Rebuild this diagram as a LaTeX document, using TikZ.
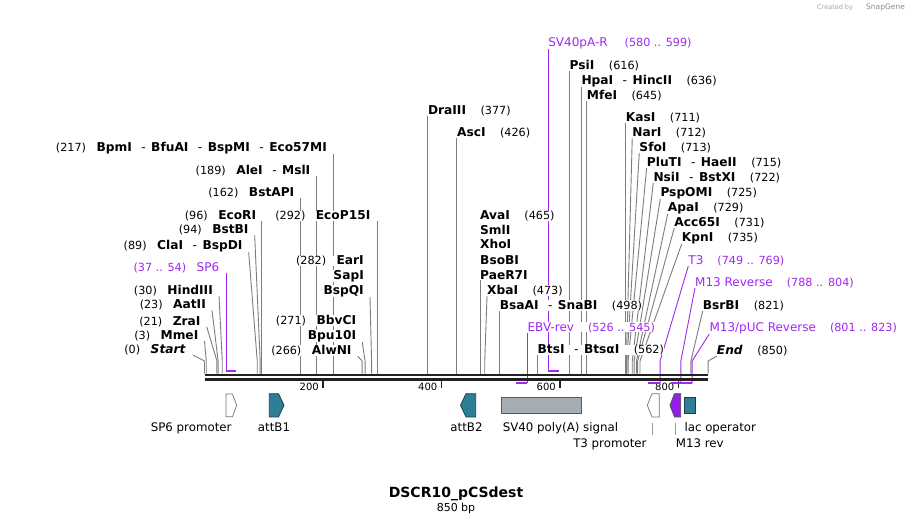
\documentclass[tikz,border=0pt]{standalone}
\usepackage{fontspec}
\setmainfont{DejaVu Sans}

\definecolor{primerc}{RGB}{160,40,240}
\definecolor{attc}{RGB}{46,126,150}
\definecolor{attd}{RGB}{28,62,74}
\definecolor{polyc}{RGB}{166,172,180}
\definecolor{cutc}{RGB}{125,125,125}
\definecolor{m13c}{RGB}{150,30,235}

\pgfdeclarelayer{bg}
\pgfsetlayers{bg,main}

\newcommand{\enz}[1]{\textbf{#1}}
\newcommand{\pos}[1]{{\fontsize{11.2}{13}\selectfont(#1)}}
\newcommand{\orr}{\hspace{9.5pt}-\hspace{5.5pt}}
\newcommand{\gL}{\hspace{10.5pt}}
\newcommand{\gR}{\hspace{14.5pt}}
\newcommand{\gP}{\hspace{14pt}}

\tikzset{
  lab/.style={fill=white, inner sep=0pt, font=\fontsize{12.2}{14}\selectfont},
  plab/.style={lab, text=primerc, font=\fontsize{12}{14}\selectfont},
  cut/.style={draw=cutc, line width=0.9pt},
  prim/.style={draw=primerc, line width=0.9pt},
  primbar/.style={draw=primerc, line width=1.8pt},
  seqline/.style={draw=black!87, line width=2.8pt},
  rultick/.style={draw=black!87, line width=1.8pt},
  rul/.style={inner sep=0pt, font=\fontsize{10}{12}\selectfont},
  feat/.style={inner sep=0pt, font=\fontsize{11.8}{14}\selectfont},
  featline/.style={draw=black!40, line width=0.8pt},
  promo/.style={draw=black!55, fill=white, line width=0.7pt},
  attfeat/.style={draw=attd, fill=attc, line width=0.8pt},
  polyfeat/.style={draw=black!65, fill=polyc, line width=0.8pt},
  m13feat/.style={draw=black!70, fill=m13c, line width=0.8pt},
}

\begin{document}
\begin{tikzpicture}[x=1pt,y=-1pt]
\useasboundingbox (0,0) rectangle (914,524);
\begin{pgfonlayer}{bg}
  \fill[white] (0,0) rectangle (914,524);
\end{pgfonlayer}
\node[inner sep=0pt, font=\fontsize{6.5}{8}\selectfont, text=black!35, anchor=base west] (made) at (817,9.5) {Created by};
\node[inner sep=0pt, font=\fontsize{7.5}{9}\selectfont, text=black!45, anchor=base west] (snap) at (866,9.5) {SnapGene};

% sequence, sites and primers: x in bp
\begin{scope}[xshift=204.5pt, x=0.5925pt]
\foreach \p in {0,3,21,23,30,89,94,96,162,189,217,266,271,282,292,377,426,465,473,498,562,616,636,645,711,712,713,715,722,725,729,731,735,821,850}
  \coordinate (s\p) at (\p,373.5);
\foreach \p/\y in {37/370.7,54/370.7,580/370.7,599/370.7,526/383.3,545/383.3,749/383.3,769/383.3,788/383.3,804/383.3,801/383.3,823/383.3}
  \coordinate (p\p) at (\p,\y);

% ruler
\foreach \t in {200,400,600,800}{
  \draw[rultick] (\t,380) -- (\t,388);
  \node[rul, anchor=base east] (r\t) at ([xshift=-4pt]\t,390.7) {\t};
}
\draw[seqline] (0,374.9) -- (850,374.9);
\draw[seqline] (0,379.5) -- (850,379.5);

% primer bars
\draw[primbar] (p37) -- (p54);
\draw[primbar] (p580) -- (p599);
\draw[primbar] (p526) -- (p545);
\draw[primbar] (p749) -- (p769);
\draw[primbar] (p788) -- (p804);
\draw[primbar] (p801) -- (p823);

% labels left of their sites
\node[lab, anchor=base east] (bpm) at ([xshift=-6pt]217,151.2) {\pos{217}\gL\enz{BpmI}\orr\enz{BfuAI}\orr\enz{BspMI}\orr\enz{Eco57MI}};
\node[lab, anchor=base east] (ale) at ([xshift=-6pt]189,174.5) {\pos{189}\gL\enz{AleI}\orr\enz{MslI}};
\node[lab, anchor=base east] (bsta) at ([xshift=-6pt]162,196.2) {\pos{162}\gL\enz{BstAPI}};
\node[lab, anchor=base east] (ecor) at ([xshift=-5pt]96,219.5) {\pos{96}\gL\enz{EcoRI}};
\node[lab, anchor=base east] (ecop) at ([xshift=-7pt]292,219.5) {\pos{292}\gL\enz{EcoP15I}};
\node[lab, anchor=base east] (bstb) at ([xshift=-6pt]84.7,233.8) {\pos{94}\gL\enz{BstBI}};
\node[lab, anchor=base east] (cla) at ([xshift=-6pt]74.6,249.5) {\pos{89}\gL\enz{ClaI}\orr\enz{BspDI}};
\node[lab, anchor=base east] (ear) at ([xshift=-6pt]279.3,264.5) {\pos{282}\gL\enz{EarI}};
\node[lab, anchor=base east] (sap) at ([xshift=-6pt]279.3,279.5) {\enz{SapI}};
\node[lab, anchor=base east] (bspq) at ([xshift=-6pt]279.3,294.5) {\enz{BspQI}};
\node[lab, anchor=base east] (bbv) at ([xshift=-6pt]266.3,324.5) {\pos{271}\gL\enz{BbvCI}};
\node[lab, anchor=base east] (bpu) at ([xshift=-6pt]266.3,339.5) {\enz{Bpu10I}};
\node[lab, anchor=base east] (alw) at ([xshift=-6pt]258.6,354.5) {\pos{266}\gL\enz{AlwNI}};
\node[lab, anchor=base east] (hind) at ([xshift=-6pt]24.5,294.5) {\pos{30}\gL\enz{HindIII}};
\node[lab, anchor=base east] (aat) at ([xshift=-6pt]12.7,308.8) {\pos{23}\gL\enz{AatII}};
\node[lab, anchor=base east] (zra) at ([xshift=-6pt]3.7,325) {\pos{21}\gL\enz{ZraI}};
\node[lab, anchor=base east] (mme) at ([xshift=-6pt]0,339.5) {\pos{3}\gL\enz{MmeI}};
\node[lab, anchor=base east] (strt) at ([xshift=-7pt]-19.4,353.5) {\pos{0}\gL\enz{\itshape Start}};
\node[plab, anchor=base east] (sp6) at ([xshift=-7pt]37,271) {\pos{37 .. 54}\gL SP6};

% labels right of their sites
\node[lab, anchor=base west] (dra) at (377,114.5) {\enz{DraIII}\gR\pos{377}};
\node[lab, anchor=base west] (asc) at (426,136.8) {\enz{AscI}\gR\pos{426}};
\node[lab, anchor=base west] (ava) at (465,219.5) {\enz{AvaI}\gR\pos{465}};
\node[lab, anchor=base west] (sml) at (465,234) {\enz{SmlI}};
\node[lab, anchor=base west] (xho) at (465,248.8) {\enz{XhoI}};
\node[lab, anchor=base west] (bsob) at (465,264.5) {\enz{BsoBI}};
\node[lab, anchor=base west] (pae) at (465,279.5) {\enz{PaeR7I}};
\node[lab, anchor=base west] (xba) at (476.8,294.5) {\enz{XbaI}\gR\pos{473}};
\node[lab, anchor=base west] (bsaa) at (498,309.5) {\enz{BsaAI}\orr\enz{SnaBI}\gR\pos{498}};
\node[lab, anchor=base west] (bts) at (562,353.8) {\enz{BtsI}\orr\enz{BtsαI}\gR\pos{562}};
\node[lab, anchor=base west] (psi) at (616,69.5) {\enz{PsiI}\gR\pos{616}};
\node[lab, anchor=base west] (hpa) at (636,84.5) {\enz{HpaI}\orr\enz{HincII}\gR\pos{636}};
\node[lab, anchor=base west] (mfe) at (645,99.5) {\enz{MfeI}\gR\pos{645}};
\node[lab, anchor=base west] (kas) at (711,121.2) {\enz{KasI}\gR\pos{711}};
\node[lab, anchor=base west] (nar) at (721.9,136.8) {\enz{NarI}\gR\pos{712}};
\node[lab, anchor=base west] (sfo) at (733.8,151.2) {\enz{SfoI}\gR\pos{713}};
\node[lab, anchor=base west] (plu) at (746.3,166.2) {\enz{PluTI}\orr\enz{HaeII}\gR\pos{715}};
\node[lab, anchor=base west] (nsi) at (757.5,181.2) {\enz{NsiI}\orr\enz{BstXI}\gR\pos{722}};
\node[lab, anchor=base west] (psp) at (769.3,196.2) {\enz{PspOMI}\gR\pos{725}};
\node[lab, anchor=base west] (apa) at (781.8,211.2) {\enz{ApaI}\gR\pos{729}};
\node[lab, anchor=base west] (acc) at (792.9,226.2) {\enz{Acc65I}\gR\pos{731}};
\node[lab, anchor=base west] (kpn) at (805.4,241.2) {\enz{KpnI}\gR\pos{735}};
\node[lab, anchor=base west] (bsrb) at (840.8,309.5) {\enz{BsrBI}\gR\pos{821}};
\node[lab, anchor=base west] (fin) at (864.6,354.5) {\enz{\itshape End}\gR\pos{850}};
\node[plab, anchor=base west] (svr) at (580,46.8) {SV40pA-R\hspace{17pt}\pos{580 .. 599}};
\node[plab, anchor=base west] (ebv) at (545,331) {EBV-rev\gP\pos{526 .. 545}};
\node[plab, anchor=base west] (t3) at (816.5,264.5) {T3\gP\pos{749 .. 769}};
\node[plab, anchor=base west] (m13r) at (827.8,286.2) {M13 Reverse\gP\pos{788 .. 804}};
\node[plab, anchor=base west] (pucr) at (852,331.2) {M13/pUC Reverse\gP\pos{801 .. 823}};

\begin{pgfonlayer}{bg}
% leaders from labels to sites
\draw[cut] (bpm.south east) ++(6pt,0) -- (s217);
\draw[cut] (ale.south east) ++(6pt,0) -- (s189);
\draw[cut] (bsta.south east) ++(6pt,0) -- (s162);
\draw[cut] (ecor.south east) ++(5pt,0) -- (s96);
\draw[cut] (ecop.south east) ++(7pt,0) -- (s292);
\draw[cut] (bstb.south east) ++(6pt,0) -- ([yshift=12.5pt]s94) -- (s94);
\draw[cut] (cla.south east) ++(6pt,0) -- ([yshift=12.5pt]s89) -- (s89);
\draw[cut] (bspq.south east) ++(6pt,0) -- ([yshift=12.5pt]s282) -- (s282);
\draw[cut] (bpu.south east) ++(6pt,0) -- ([yshift=12.5pt]s271) -- (s271);
\draw[cut] (alw.south east) ++(6pt,0) -- ([yshift=12.5pt]s266) -- (s266);
\draw[cut] (hind.south east) ++(6pt,0) -- ([yshift=12.5pt]s30) -- (s30);
\draw[cut] (aat.south east) ++(6pt,0) -- ([yshift=12.5pt]s23) -- (s23);
\draw[cut] (zra.south east) ++(6pt,0) -- ([yshift=12.5pt]s21) -- (s21);
\draw[cut] (mme.south east) ++(6pt,0) -- ([yshift=12.5pt]s3) -- (s3);
\draw[cut] (strt.south east) ++(7pt,0) -- ([yshift=12.5pt]s0) -- (s0);
\draw[cut] (dra.south west) -- (s377);
\draw[cut] (asc.south west) -- (s426);
\draw[cut] (pae.south west) -- (s465);
\draw[cut] (xba.south west) -- ([yshift=12.5pt]s473) -- (s473);
\draw[cut] (bsaa.south west) -- (s498);
\draw[cut] (bts.south west) -- (s562);
\draw[cut] (psi.south west) -- (s616);
\draw[cut] (hpa.south west) -- (s636);
\draw[cut] (mfe.south west) -- (s645);
\draw[cut] (kas.south west) -- (s711);
\draw[cut] (nar.south west) -- ([yshift=12.5pt]s712) -- (s712);
\draw[cut] (sfo.south west) -- ([yshift=12.5pt]s713) -- (s713);
\draw[cut] (plu.south west) -- ([yshift=12.5pt]s715) -- (s715);
\draw[cut] (nsi.south west) -- ([yshift=12.5pt]s722) -- (s722);
\draw[cut] (psp.south west) -- ([yshift=12.5pt]s725) -- (s725);
\draw[cut] (apa.south west) -- ([yshift=12.5pt]s729) -- (s729);
\draw[cut] (acc.south west) -- ([yshift=12.5pt]s731) -- (s731);
\draw[cut] (kpn.south west) -- ([yshift=12.5pt]s735) -- (s735);
\draw[cut] (bsrb.south west) -- ([yshift=12.5pt]s821) -- (s821);
\draw[cut] (fin.south west) -- ([yshift=12.5pt]s850) -- (s850);
% primer leaders
\draw[prim] (sp6.south east) ++(7pt,0) -- (p37);
\draw[prim] (svr.south west) -- (p580);
\draw[prim] (ebv.south west) -- (p545);
\draw[prim] (t3.south west) -- (769,361) -- (p769);
\draw[prim] (m13r.south west) -- (804,361) -- (p804);
\draw[prim] (pucr.south west) -- (823,361) -- (p823);
\end{pgfonlayer}
\end{scope}

% features
\draw[promo] (226,394) -- (232.5,394) -- (236.7,405.3) -- (232.5,416.7) -- (226,416.7) -- cycle;
\draw[attfeat] (269.3,393.7) -- (278.5,393.7) -- (284,405.3) -- (278.5,416.9) -- (269.3,416.9) -- cycle;
\draw[attfeat] (475.7,393.7) -- (466,393.7) -- (460.5,405.3) -- (466,416.9) -- (475.7,416.9) -- cycle;
\draw[polyfeat] (501,397.3) rectangle (581.7,413.3);
\draw[promo] (659.3,393.7) -- (652,393.7) -- (647.3,405.3) -- (652,416.9) -- (659.3,416.9) -- cycle;
\draw[m13feat] (680.7,393.7) -- (674.5,393.7) -- (670,405.3) -- (674.5,416.9) -- (680.7,416.9) -- cycle;
\draw[attfeat] (684.3,397.3) rectangle (695,413.3);

\node[feat, anchor=base east] (sp6p) at (231.7,431.7) {SP6 promoter};
\node[feat, anchor=base] (att1) at (274,431.7) {attB1};
\node[feat, anchor=base] (att2) at (466.5,431.7) {attB2};
\node[feat, anchor=base west] (sv40) at (502.7,431.7) {SV40 poly(A) signal};
\node[feat, anchor=base west] (lacop) at (684.3,431.7) {lac operator};
\node[feat, anchor=base east] (t3p) at (646.7,447.3) {T3 promoter};
\node[feat, anchor=base west] (m13p) at (675.7,447.3) {M13 rev};
\draw[featline] (652.7,423) -- (652.7,435);
\draw[featline] (675.7,423) -- (675.7,435);

\node[inner sep=0pt, font=\fontsize{14}{16}\selectfont\bfseries, anchor=base] (title) at (456,497.7) {DSCR10\_pCSdest};
\node[inner sep=0pt, font=\fontsize{11}{13}\selectfont, anchor=base] (size) at (456,511.5) {850 bp};
\end{tikzpicture}
\end{document}
